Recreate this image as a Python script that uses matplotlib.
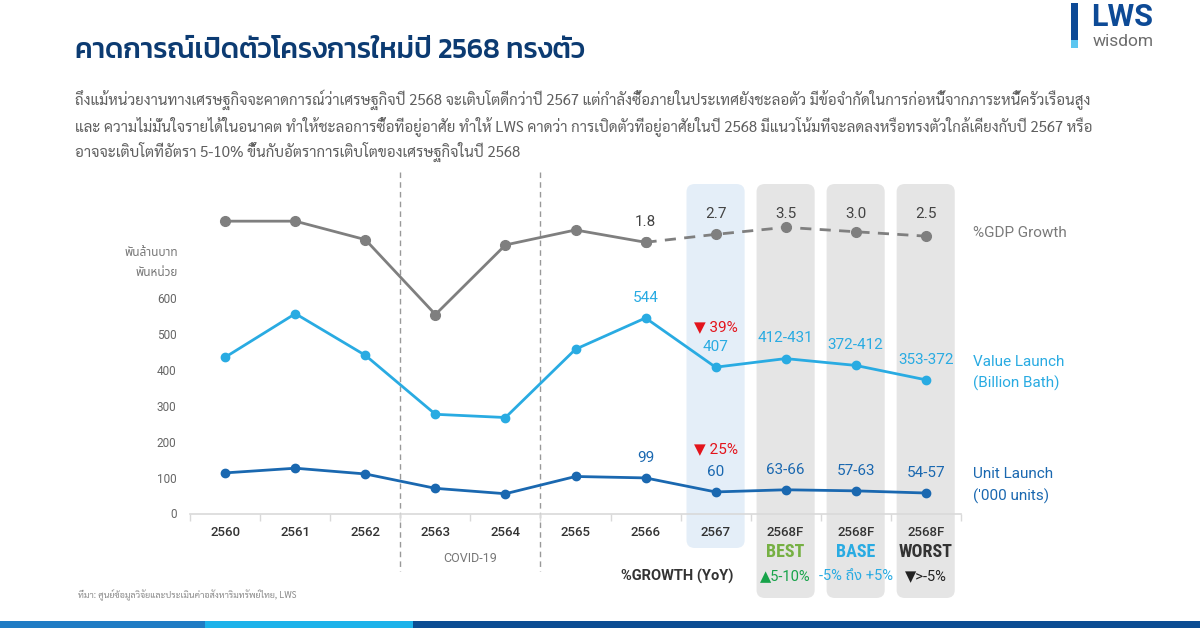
import matplotlib
matplotlib.use("Agg")
import matplotlib.pyplot as plt
from matplotlib.patches import FancyBboxPatch, Rectangle
from matplotlib.transforms import blended_transform_factory
import numpy as np

# ---- data ----
years = ["2560", "2561", "2562", "2563", "2564", "2565", "2566", "2567", "2568F", "2568F", "2568F"]
value_launch = [435, 556, 440, 276, 267, 457, 544, 407, 431, 412, 372]
unit_launch = [113, 126, 110, 70, 55, 103, 99, 60, 66, 63, 57]
gdp_growth = [4.2, 4.2, 2.1, -6.4, 1.5, 3.2, 1.8, 2.7, 3.5, 3.0, 2.5]

gdp_labels = ["1.8", "2.7", "3.5", "3.0", "2.5"]          # from 2566 on
value_labels = ["544", "407", "412-431", "372-412", "353-372"]
unit_labels = ["99", "60", "63-66", "57-63", "54-57"]
scenarios = ["BEST", "BASE", "WORST"]
scenario_growth = ["\u25b25-10%", "-5% ถึง +5%", "\u25bc>-5%"]
drop_value = "39%"
drop_unit = "25%"

title = "คาดการณ์เปิดตัวโครงการใหม่ปี 2568 ทรงตัว"
body = [
    "ถึงแม้หน่วยงานทางเศรษฐกิจจะคาดการณ์ว่าเศรษฐกิจปี 2568 จะเติบโตดีกว่าปี 2567 แต่กำลังซื้อภายในประเทศยังชะลอตัว มีข้อจำกัดในการก่อหนี้จากภาระหนี้ครัวเรือนสูง",
    "และ ความไม่มั่นใจรายได้ในอนาคต ทำให้ชะลอการซื้อที่อยู่อาศัย ทำให้ LWS คาดว่า การเปิดตัวที่อยู่อาศัยในปี 2568 มีแนวโน้มที่จะลดลงหรือทรงตัวใกล้เคียงกับปี 2567 หรือ",
    "อาจจะเติบโตที่อัตรา 5-10% ขึ้นกับอัตราการเติบโตของเศรษฐกิจในปี 2568",
]
source = "ที่มา: ศูนย์ข้อมูลวิจัยและประเมินค่าอสังหาริมทรัพย์ไทย, LWS"

# ---- style ----
C_GDP = "#7f7f7f"
C_VAL = "#29abe2"
C_UNIT = "#1a68b0"
C_NAVY = "#0c3b72"
C_RED = "#e3141c"
LAT = ["Roboto", "Noto Sans Thai", "DejaVu Sans"]

W, H = 1200, 628
fig = plt.figure(figsize=(W / 100, H / 100), dpi=100)
renderer = fig.canvas.get_renderer()


def fx(px):
    return px / W


def fy(py):
    return 1 - py / H


def fit_width(t, target_px):
    # scale the font so the text spans target_px like in the reference
    w = t.get_window_extent(renderer).width
    t.set_fontsize(t.get_fontsize() * target_px / w)


ax = fig.add_axes([fx(190.3), fy(513.5), 770.4 / W, 323.5 / H])
ax2 = ax.twinx()
x = np.arange(len(years))
ax.set_xlim(-0.5, len(years) - 0.5)
ax.set_ylim(0, 900)
ax2.set_ylim(-29.0, 7.74)
ax.patch.set_alpha(0)

bt = blended_transform_factory(ax.transData, fig.transFigure)

# shaded columns
bw = 0.83
boxes = [(7, "#e4eef8", 184, 548), (8, "#e5e5e5", 184, 598),
         (9, "#e5e5e5", 184, 598), (10, "#e5e5e5", 184, 598)]
for i, col, top, bot in boxes:
    p = FancyBboxPatch((i - bw / 2, fy(bot)), bw, fy(top) - fy(bot),
                       boxstyle="round,pad=0,rounding_size=0.12",
                       mutation_aspect=0.105, transform=bt,
                       fc=col, ec="none", clip_on=False, zorder=0)
    fig.add_artist(p)

# covid dashed separators
for xv in (2.5, 4.5):
    ax.plot([xv, xv], [fy(172), fy(571)], transform=bt, color="#999999",
            lw=1, ls=(0, (4, 3)), clip_on=False, zorder=1)

# lines
ax.plot(x, value_launch, color=C_VAL, lw=2, marker="o", ms=6, zorder=3, clip_on=False)
ax.plot(x, unit_launch, color=C_UNIT, lw=2, marker="o", ms=6, zorder=3, clip_on=False)
ax2.plot(x[:7], gdp_growth[:7], color=C_GDP, lw=2, marker="o", ms=7, zorder=3, clip_on=False)
ax2.plot(x[6:], gdp_growth[6:], color=C_GDP, lw=2, ls=(0, (4, 3)), marker="o", ms=7,
         zorder=3, clip_on=False)

# labels above points
ax2.annotate(gdp_labels[0], (6, gdp_growth[6]), xytext=(0, 14.5),
             textcoords="offset points", ha="center", va="center",
             fontsize=11, color="#444444", family=LAT)
for k, i in enumerate(range(7, 11)):
    # forecast GDP labels sit on one row at the top of the boxes
    ax.text(i, fy(214.5), gdp_labels[k + 1], transform=bt, ha="center", va="center",
            fontsize=11, color="#444444", family=LAT)
for k, i in enumerate(range(6, 11)):
    ax.annotate(value_labels[k], (i, value_launch[i]), xytext=(0, 14.5),
                textcoords="offset points", ha="center", va="center",
                fontsize=11, color=C_VAL, family=LAT)
    ax.annotate(unit_labels[k], (i, unit_launch[i]), xytext=(0, 14.5),
                textcoords="offset points", ha="center", va="center",
                fontsize=11, color=C_UNIT, family=LAT)

ax.annotate("\u25bc " + drop_value, (7, value_launch[7]), xytext=(0, 29),
            textcoords="offset points", ha="center", va="center",
            fontsize=11, color=C_RED, family=LAT)
ax.annotate("\u25bc " + drop_unit, (7, unit_launch[7]), xytext=(0, 31),
            textcoords="offset points", ha="center", va="center",
            fontsize=11, color=C_RED, family=LAT)

# axes styling
for s in ("top", "right", "left"):
    ax.spines[s].set_visible(False)
    ax2.spines[s].set_visible(False)
ax2.spines["bottom"].set_visible(False)
ax2.set_yticks([])
ax.spines["bottom"].set_color("#d9d9d9")
ax.spines["bottom"].set_linewidth(1.2)
ax.set_xticks(x)
ax.set_xticklabels(years, fontsize=9.5, color="#333333", family=LAT, fontweight="medium")
ax.tick_params(axis="x", length=0, pad=9)
ax.set_xticks(np.arange(-0.5, len(years)), minor=True)
ax.tick_params(axis="x", which="minor", length=5, color="#d9d9d9", width=1)
ax.set_yticks(np.arange(0, 700, 100))
ax.tick_params(axis="y", length=0, pad=10, labelsize=8.5, labelcolor="#666666")
for lab in ax.get_yticklabels():
    lab.set_family(LAT)

fig.text(fx(178), fy(252), "พันล้านบาท", ha="right", va="center", fontsize=8.5,
         color="#777777", family=["Noto Sans Thai", "DejaVu Sans"])
fig.text(fx(178), fy(273), "พันหน่วย", ha="right", va="center", fontsize=8.5,
         color="#777777", family=["Noto Sans Thai", "DejaVu Sans"])

# right side series names
fig.text(fx(973), fy(233), "%GDP Growth", ha="left", va="center", fontsize=11,
         color="#7a7a7a", family=LAT)
fig.text(fx(973), fy(362), "Value Launch", ha="left", va="center", fontsize=11,
         color=C_VAL, family=LAT)
fig.text(fx(973), fy(383), "(Billion Bath)", ha="left", va="center", fontsize=11,
         color=C_VAL, family=LAT)
fig.text(fx(973), fy(474), "Unit Launch", ha="left", va="center", fontsize=11,
         color=C_UNIT, family=LAT)
fig.text(fx(973), fy(496), "('000 units)", ha="left", va="center", fontsize=11,
         color=C_UNIT, family=LAT)

# scenario rows under the axis
ax.text(3.5, fy(559), "COVID-19", transform=bt, ha="center", va="center",
        fontsize=9, color="#777777", family=LAT)
for k, (name, col) in enumerate(zip(scenarios, ["#76b043", C_VAL, "#333333"])):
    ax.text(8 + k, fy(552), name, transform=bt, ha="center", va="center",
            fontsize=13, color=col, family=["Roboto Condensed"] + LAT, fontweight="bold")
for k, col in enumerate(["#17a34a", C_VAL, "#222222"]):
    ax.text(8 + k, fy(576), scenario_growth[k], transform=bt, ha="center", va="center",
            fontsize=10.5, color=col, family=LAT)
ax.text(6.45, fy(576), "%GROWTH (YoY)", transform=bt, ha="center", va="center",
        fontsize=10.5, color="#333333", family=LAT, fontweight="bold")

# title, body, source
t = fig.text(fx(75), fy(51), title, ha="left", va="center", fontsize=20, color=C_NAVY,
             family=["Kanit", "DejaVu Sans"], fontweight="medium")
fit_width(t, 510)
for k, line in enumerate(body):
    b = fig.text(fx(75), fy(100 + 26 * k), line, ha="left", va="center", fontsize=10.5,
                 color="#5f5f5f", family=["Sarabun", "DejaVu Sans"])
    if k == 0:
        fit_width(b, 1010)
        bsize = b.get_fontsize()
    else:
        b.set_fontsize(bsize)
fig.text(fx(78), fy(595), source, ha="left", va="center", fontsize=6.5,
         color="#888888", family=["Sarabun", "DejaVu Sans"])

# logo
fig.add_artist(Rectangle((fx(1071), fy(40)), 7 / W, 37 / H, transform=fig.transFigure,
                         fc="#0d4a96", ec="none"))
fig.add_artist(Rectangle((fx(1071), fy(48)), 7 / W, 8 / H, transform=fig.transFigure,
                         fc="#5cc6f0", ec="none"))
fig.text(fx(1091), fy(17), "LWS", ha="left", va="center", fontsize=22,
         color="#0d4a96", family=LAT, fontweight="bold")
fig.text(fx(1093), fy(42), "wisdom", ha="left", va="center", fontsize=12.5,
         color="#6d6d6d", family=LAT)

# bottom stripe
for x0, x1, col in [(0, 205, "#1f7cc4"), (205, 413, "#1cb2ea"), (413, 1200, "#0b4d93")]:
    fig.add_artist(Rectangle((fx(x0), 0), (x1 - x0) / W, 7 / H, transform=fig.transFigure,
                             fc=col, ec="none"))

fig.savefig("out.png", dpi=100)
